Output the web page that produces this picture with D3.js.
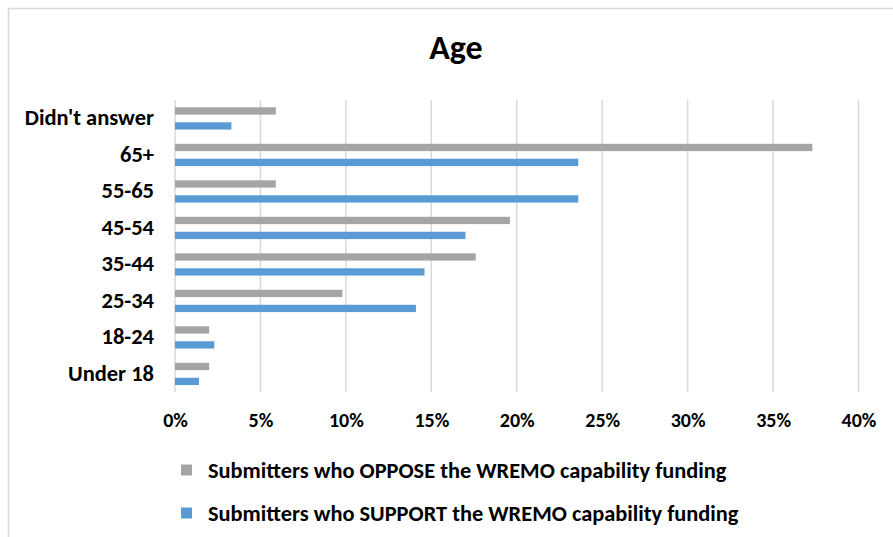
<!DOCTYPE html>
<html>
<head>
<meta charset="utf-8">
<script src="https://cdn.jsdelivr.net/npm/d3@7"></script>
<style>
  html, body { margin: 0; padding: 0; background: #fff; }
  svg { display: block; }
  text { font-family: Carlito, Calibri, Lato, "Open Sans", sans-serif; font-weight: bold; fill: #000; }
</style>
</head>
<body>
<svg id="chart" width="893" height="537"></svg>
<script>
// Age groups, top to bottom
const categories = ["Didn't answer", "65+", "55-65", "45-54", "35-44", "25-34", "18-24", "Under 18"];
// Share of submitters in each age group (%)
const opposeValues  = [5.9, 37.3, 5.9, 19.6, 17.6, 9.8, 2.0, 2.0];
const supportValues = [3.3, 23.6, 23.6, 17.0, 14.6, 14.1, 2.3, 1.4];
const tickValues = [0, 5, 10, 15, 20, 25, 30, 35, 40];
const seriesNames = [
  "Submitters who OPPOSE the WREMO capability funding",
  "Submitters who SUPPORT the WREMO capability funding"
];
const seriesColors = ["#A5A5A5", "#5B9BD5"];

const svg = d3.select("#chart");

// chart area frame
svg.append("rect")
  .attr("x", 8.5).attr("y", 8.5)
  .attr("width", 893).attr("height", 540)
  .attr("fill", "none").attr("stroke", "#D9D9D9").attr("stroke-width", 1.5);

const x = d3.scaleLinear().domain([0, 40]).range([175, 858.5]);
const y = d3.scaleBand().domain(categories).range([100, 392]).padding(0);
const bw = y.bandwidth();

// title
svg.append("text")
  .attr("x", 456).attr("y", 59)
  .attr("text-anchor", "middle")
  .attr("font-size", 34)
  .text("Age");

// vertical gridlines
svg.append("g")
  .selectAll("line")
  .data(tickValues)
  .join("line")
  .attr("x1", d => x(d)).attr("x2", d => x(d))
  .attr("y1", 100).attr("y2", 392)
  .attr("stroke", "#D9D9D9").attr("stroke-width", 1.5);

// bottom axis labels
const xAxis = d3.axisBottom(x)
  .tickValues(tickValues)
  .tickFormat(d => d + "%")
  .tickSize(0)
  .tickPadding(0);
const gx = svg.append("g").attr("transform", "translate(0,413)").call(xAxis);
gx.select(".domain").remove();
gx.selectAll("text")
  .attr("font-size", 20)
  .attr("font-family", null)
  .attr("dy", "0.71em")
  .attr("fill", "#000");

// left axis labels
const yAxis = d3.axisLeft(y).tickSize(0).tickPadding(0);
const gy = svg.append("g").attr("transform", "translate(154,0)").call(yAxis);
gy.select(".domain").remove();
gy.selectAll("text")
  .attr("font-size", 22.5)
  .attr("font-family", null)
  .attr("fill", "#000");

// bars
const series = [opposeValues, supportValues];
series.forEach((vals, si) => {
  svg.append("g")
    .selectAll("rect")
    .data(vals)
    .join("rect")
    .attr("x", x(0))
    .attr("y", (d, i) => y(categories[i]) + bw * (si === 0 ? 0.2 : 0.61))
    .attr("width", d => x(d) - x(0))
    .attr("height", bw * 0.2)
    .attr("fill", seriesColors[si]);
});

// legend
const legend = svg.append("g");
seriesNames.forEach((name, i) => {
  const cy = 470 + i * 43;
  legend.append("rect")
    .attr("x", 181).attr("y", cy - 5.5)
    .attr("width", 11).attr("height", 11)
    .attr("fill", seriesColors[i]);
  legend.append("text")
    .attr("x", 208).attr("y", cy)
    .attr("dy", "0.35em")
    .attr("font-size", 22.4)
    .text(name);
});
</script>
</body>
</html>
